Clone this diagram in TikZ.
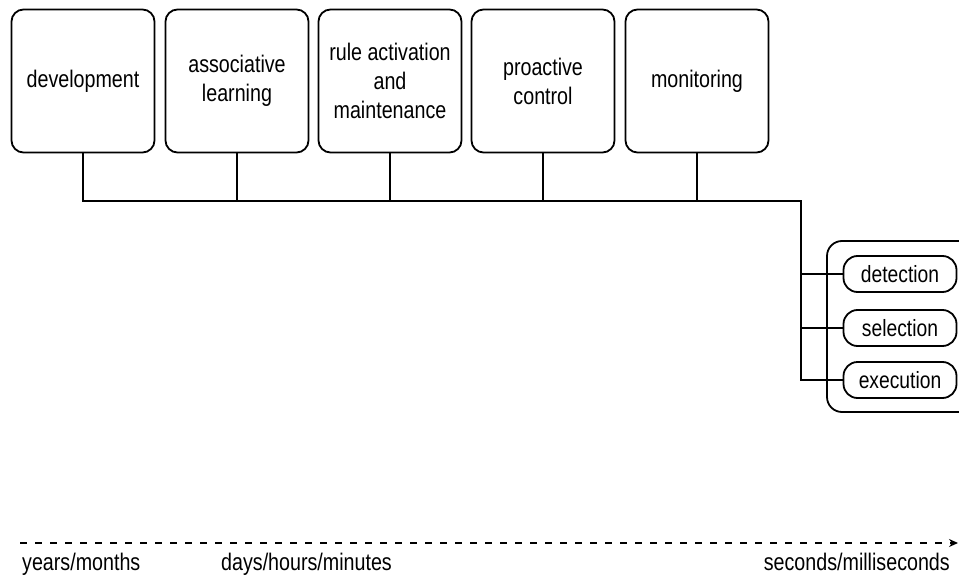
\documentclass[tikz,border=0pt]{standalone}
\usepackage{fontspec}
\setmainfont{Liberation Sans}[FakeStretch=0.82]
\usetikzlibrary{arrows.meta}
\begin{document}
\begin{tikzpicture}[x=1pt,y=-1pt,
  bigbox/.style={draw, line width=1.8pt, rounded corners=12pt, minimum width=143pt, minimum height=143pt, align=center, inner sep=2pt, font=\fontsize{24}{29}\selectfont},
  pill/.style={draw, line width=1.8pt, rounded corners=14pt, minimum width=113pt, minimum height=36pt, inner sep=2pt, font=\fontsize{23.5}{25}\selectfont},
  wire/.style={line width=1.8pt},
  lbl/.style={font=\fontsize{24}{25}\selectfont, inner sep=0pt}]
\clip (0,0) rectangle (959,578);
\fill[white] (0,0) rectangle (959,578);
\node[bigbox] (b1) at (83,81) {development};
\node[bigbox] (b2) at (237,81) {associative\\learning};
\node[bigbox] (b3) at (390,81) {rule activation\\and\\maintenance};
\node[bigbox] (b4) at (543,81) {proactive\\control};
\node[bigbox] (b5) at (697,81) {monitoring};
\node[draw, line width=1.8pt, rounded corners=15pt, minimum width=160pt, minimum height=171pt] (grp) at (907,326.5) {};
\node[pill] (det) at (900,274) {detection};
\node[pill] (sel) at (900,328) {selection};
\node[pill] (exe) at (900,380) {execution};
\coordinate (busR) at (801,201);
\coordinate (busL) at (b1.south |- busR);
\draw[wire] (b1.south) -- (busL) -- (busR) -- (busR |- exe.west) -- (exe.west);
\foreach \b in {b2,b3,b4,b5} \draw[wire] (\b.south) -- (\b.south |- busR);
\draw[wire] (busR |- det.west) -- (det.west);
\draw[wire] (busR |- sel.west) -- (sel.west);
\coordinate (tl) at (20,543);
\coordinate (tr) at (958,543);
\draw[line width=1.5pt, dash pattern=on 7pt off 8pt, -{Stealth[length=9pt,width=8pt]}] (tl) -- (tr);
\node[lbl, anchor=base west] (y1) at (22,570) {years/months};
\node[lbl, anchor=base west] (y2) at (221,570) {days/hours/minutes};
\node[lbl, anchor=base east] (y3) at (950,570) {seconds/milliseconds};
\end{tikzpicture}
\end{document}
